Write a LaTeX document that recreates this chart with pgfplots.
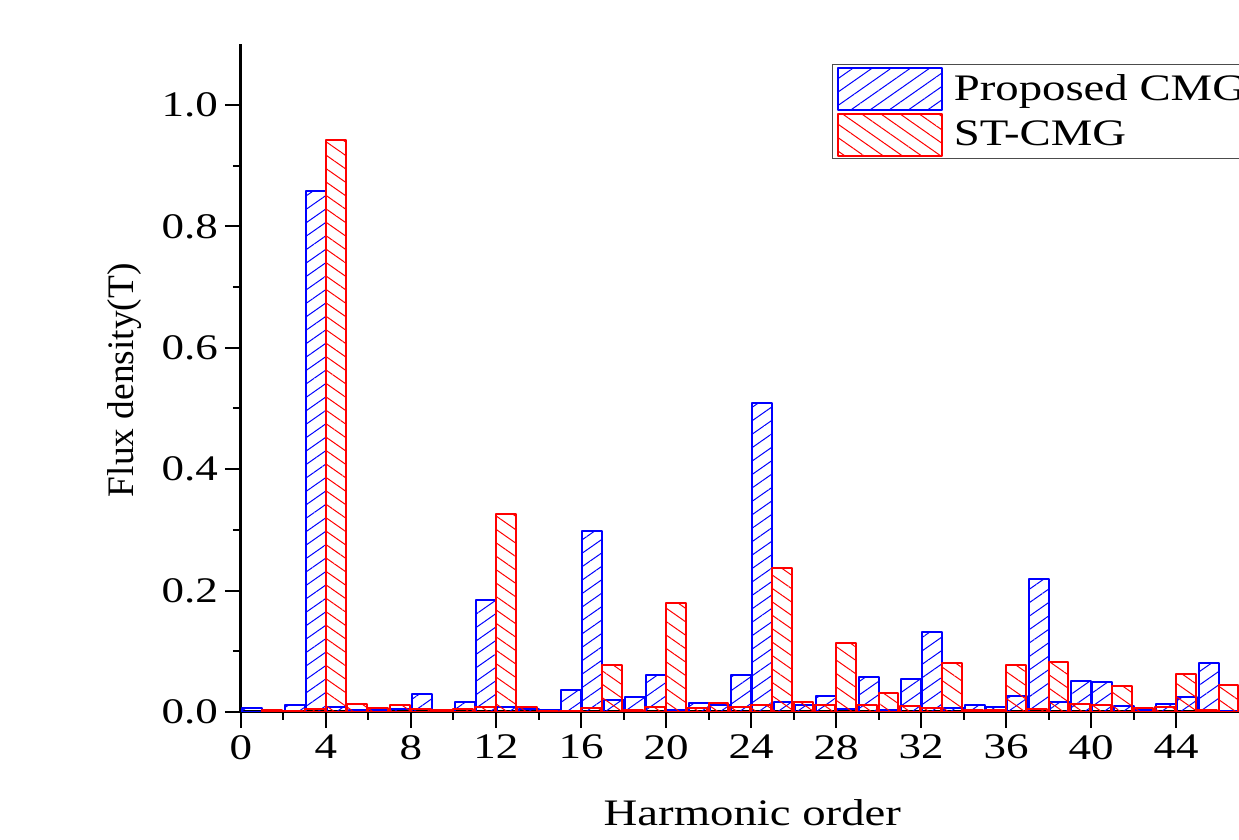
\documentclass[border=0pt]{standalone}
\usepackage{fontspec}
\setmainfont{Liberation Serif}[FakeStretch=1.25]
\newfontfamily\ylabfont{Liberation Serif}
\usepackage{pgfplots}
\pgfplotsset{compat=1.18}
\usetikzlibrary{patterns.meta}
\pgfplotsset{mylegend/.style={legend image code/.code={\draw[##1] (0pt,-10.5pt) rectangle (52pt,10.5pt); \path (55.5pt,0pt);}}}
\begin{document}
\begin{tikzpicture}
\useasboundingbox (0,0) rectangle (619.5pt,420pt);
\clip (0,0) rectangle (619.5pt,420pt);
\begin{axis}[
  at={(120.5pt,64pt)}, anchor=south west,
  scale only axis, width=499.375pt, height=333.85pt,
  xmin=0, xmax=47, ymin=0, ymax=1.1,
  axis x line=bottom, axis y line=left,
  axis line style={line width=1.5pt,-},
  xtick={0,4,...,44}, minor x tick num=1,
  ytick={0,0.2,...,1.0}, minor y tick num=1,
  tick align=outside,
  major tick length=8pt, minor tick length=4pt,
  every tick/.style={black, line width=1pt},
  tick label style={font=\fontsize{18}{20}\selectfont},
  /pgf/number format/assume math mode=true,
  yticklabel style={/pgf/number format/.cd, fixed, fixed zerofill, precision=1},
  xlabel={Harmonic order},
  xlabel style={at={(axis description cs:0.512,-0.151)}, anchor=center, font=\fontsize{18.7}{20}\selectfont},
  ylabel={\ylabfont Flux density(T)},
  ylabel style={at={(axis description cs:-0.1161,0.497)}, anchor=center, rotate=0, font=\fontsize{18.7}{20}\selectfont},
  legend style={at={(0.592,0.9705)}, anchor=north west, draw=black!70, line width=0.6pt,
    font=\fontsize{18.7}{20}\selectfont, inner xsep=2pt, inner ysep=1pt, row sep=1pt},
  legend cell align=left,
]
\addplot[ybar, bar width=0.94, bar shift=-0.47, draw=blue, line width=1pt, line join=round,
  pattern={Lines[angle=35,distance=5.5pt,line width=0.5pt]}, pattern color=blue, mylegend]
coordinates {
(1,0.007)(2,0.002)(3,0.011)(4,0.858)(5,0.008)(6,0.003)(7,0.004)(8,0.005)(9,0.029)(10,0.003)
(11,0.0165)(12,0.185)(13,0.008)(14,0.0055)(15,0.003)(16,0.037)(17,0.298)(18,0.019)(19,0.025)(20,0.061)
(21,0.003)(22,0.015)(23,0.011)(24,0.061)(25,0.509)(26,0.0165)(27,0.0115)(28,0.027)(29,0.0055)(30,0.058)
(31,0.003)(32,0.055)(33,0.131)(34,0.007)(35,0.012)(36,0.008)(37,0.026)(38,0.219)(39,0.0165)(40,0.051)
(41,0.050)(42,0.010)(43,0.003)(44,0.0126)(45,0.024)(46,0.081)(47,0.002)
};
\addlegendentry{Proposed CMG}
\addplot[ybar, bar width=0.94, bar shift=0.47, draw=red, line width=1pt, line join=round,
  pattern={Lines[angle=-35,distance=5.5pt,line width=0.5pt]}, pattern color=red, mylegend]
coordinates {
(1,0.003)(2,0.002)(3,0.0055)(4,0.942)(5,0.0126)(6,0.007)(7,0.011)(8,0.0055)(9,0.004)(10,0.0055)
(11,0.009)(12,0.326)(13,0.009)(14,0.002)(15,0.002)(16,0.007)(17,0.077)(18,0.004)(19,0.008)(20,0.179)
(21,0.006)(22,0.014)(23,0.009)(24,0.011)(25,0.237)(26,0.0165)(27,0.011)(28,0.113)(29,0.011)(30,0.031)
(31,0.010)(32,0.007)(33,0.080)(34,0.003)(35,0.004)(36,0.078)(37,0.0045)(38,0.083)(39,0.0126)(40,0.0115)
(41,0.042)(42,0.007)(43,0.009)(44,0.063)(45,0.004)(46,0.044)
};
\addlegendentry{ST-CMG}
\end{axis}
\end{tikzpicture}
\end{document}
